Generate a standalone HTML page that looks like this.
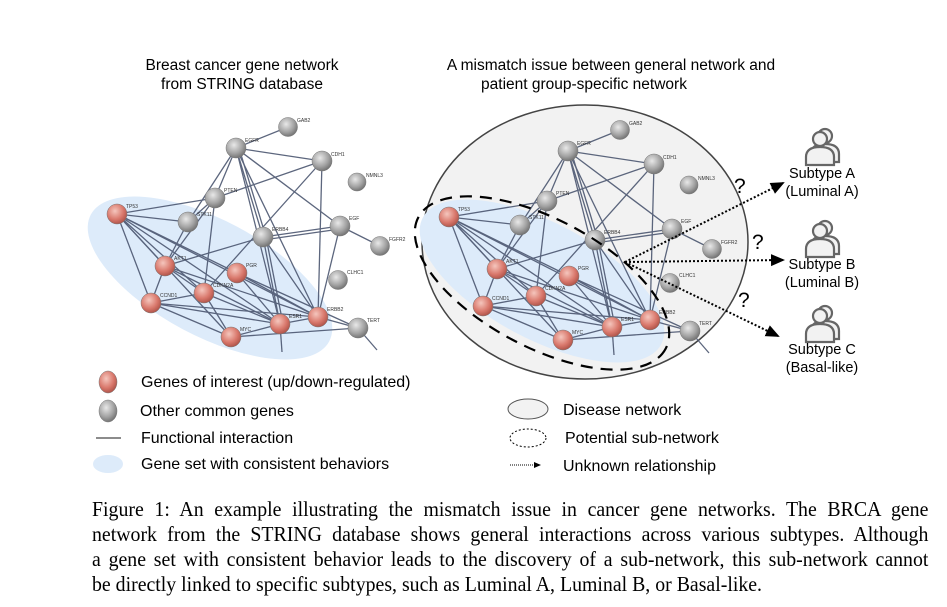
<!DOCTYPE html>
<html><head><meta charset="utf-8"><style>
html,body{margin:0;padding:0;background:#fff;width:947px;height:607px;overflow:hidden}
.cap{position:absolute;left:92px;width:886px;font-family:"Liberation Serif",serif;font-size:21px;line-height:25px;color:#000;white-space:nowrap;transform:scaleX(0.944);transform-origin:0 0}
.j{text-align:justify;text-align-last:justify;white-space:normal}
</style></head><body>
<svg width="947" height="607" viewBox="0 0 947 607" xmlns="http://www.w3.org/2000/svg" style="position:absolute;left:0;top:0">
<defs>
<radialGradient id="rg" cx="0.4" cy="0.35" r="0.7"><stop offset="0" stop-color="#f5c6bd"/><stop offset="0.6" stop-color="#d9786c"/><stop offset="1" stop-color="#a94f45"/></radialGradient>
<radialGradient id="gg" cx="0.4" cy="0.35" r="0.7"><stop offset="0" stop-color="#e8e8e8"/><stop offset="0.6" stop-color="#a3a3a3"/><stop offset="1" stop-color="#6c6c6c"/></radialGradient>
<marker id="ah" markerWidth="8" markerHeight="8" refX="6" refY="3" orient="auto"><path d="M0,0 L7,3 L0,6 Z" fill="#000"/></marker>
<g id="net">
<g stroke="#4b5670" stroke-width="1.3" fill="none" opacity="0.9">
<line x1="288" y1="127" x2="236" y2="148"/><line x1="236" y1="148" x2="322" y2="161"/><line x1="236" y1="148" x2="215" y2="198"/><line x1="236" y1="148" x2="188" y2="222"/>
<line x1="236" y1="148" x2="263" y2="237"/><line x1="239" y1="148" x2="266" y2="237"/><line x1="236" y1="148" x2="280" y2="324"/><line x1="236" y1="148" x2="340" y2="226"/><line x1="236" y1="148" x2="318" y2="317"/>
<line x1="322" y1="161" x2="215" y2="198"/><line x1="322" y1="161" x2="318" y2="317"/><line x1="322" y1="161" x2="204" y2="293"/>
<line x1="215" y1="198" x2="117" y2="214"/><line x1="215" y1="198" x2="188" y2="222"/><line x1="215" y1="198" x2="165" y2="266"/><line x1="215" y1="198" x2="204" y2="293"/>
<line x1="188" y1="222" x2="117" y2="214"/><line x1="188" y1="222" x2="165" y2="266"/>
<line x1="117" y1="214" x2="165" y2="266"/><line x1="117" y1="214" x2="151" y2="303"/><line x1="117" y1="214" x2="204" y2="293"/><line x1="117" y1="214" x2="280" y2="324"/><line x1="117" y1="214" x2="318" y2="317"/><line x1="117" y1="214" x2="237" y2="273"/><line x1="117" y1="214" x2="231" y2="337"/>
<line x1="263" y1="237" x2="340" y2="226"/><line x1="263" y1="240" x2="340" y2="229"/><line x1="263" y1="237" x2="280" y2="324"/><line x1="266" y1="237" x2="283" y2="324"/><line x1="263" y1="237" x2="318" y2="317"/><line x1="263" y1="237" x2="165" y2="266"/>
<line x1="340" y1="226" x2="380" y2="246"/><line x1="340" y1="226" x2="318" y2="317"/>
<line x1="165" y1="266" x2="151" y2="303"/><line x1="165" y1="266" x2="280" y2="324"/><line x1="165" y1="266" x2="318" y2="317"/><line x1="165" y1="266" x2="204" y2="293"/>
<line x1="237" y1="273" x2="280" y2="324"/><line x1="237" y1="273" x2="318" y2="317"/><line x1="237" y1="273" x2="358" y2="328"/>
<line x1="204" y1="293" x2="151" y2="303"/><line x1="204" y1="293" x2="231" y2="337"/><line x1="204" y1="293" x2="280" y2="324"/>
<line x1="151" y1="303" x2="280" y2="324"/><line x1="151" y1="303" x2="231" y2="337"/><line x1="151" y1="303" x2="318" y2="317"/>
<line x1="280" y1="324" x2="318" y2="317"/><line x1="280" y1="324" x2="231" y2="337"/><line x1="231" y1="337" x2="358" y2="328"/><line x1="318" y1="317" x2="358" y2="328"/>
<line x1="280" y1="324" x2="282" y2="352"/><line x1="358" y1="328" x2="377" y2="350"/>
</g>
<g stroke="#777" stroke-width="0.5">
<circle cx="288" cy="127" r="9.5" fill="url(#gg)"/><circle cx="236" cy="148" r="10" fill="url(#gg)"/><circle cx="322" cy="161" r="10" fill="url(#gg)"/><circle cx="357" cy="182" r="9" fill="url(#gg)"/>
<circle cx="215" cy="198" r="10" fill="url(#gg)"/><circle cx="188" cy="222" r="10" fill="url(#gg)"/><circle cx="263" cy="237" r="10" fill="url(#gg)"/><circle cx="340" cy="226" r="10" fill="url(#gg)"/>
<circle cx="380" cy="246" r="9.5" fill="url(#gg)"/><circle cx="338" cy="280" r="9.5" fill="url(#gg)"/><circle cx="358" cy="328" r="10" fill="url(#gg)"/>
<circle cx="117" cy="214" r="10" fill="url(#rg)"/><circle cx="165" cy="266" r="10" fill="url(#rg)"/><circle cx="237" cy="273" r="10" fill="url(#rg)"/><circle cx="204" cy="293" r="10" fill="url(#rg)"/>
<circle cx="151" cy="303" r="10" fill="url(#rg)"/><circle cx="318" cy="317" r="10" fill="url(#rg)"/><circle cx="280" cy="324" r="10" fill="url(#rg)"/><circle cx="231" cy="337" r="10" fill="url(#rg)"/>
</g>
<g font-family="Liberation Sans,sans-serif" font-size="5" fill="#333">
<text x="297" y="122">GAB2</text><text x="245" y="142">EGFR</text><text x="331" y="156">CDH1</text><text x="366" y="177">NMNL3</text>
<text x="224" y="192">PTEN</text><text x="197" y="216">STK11</text><text x="272" y="231">ERBB4</text><text x="349" y="220">EGF</text>
<text x="389" y="241">FGFR2</text><text x="347" y="274">CLHC1</text><text x="367" y="322">TERT</text>
<text x="126" y="208">TP53</text><text x="174" y="260">AKT1</text><text x="246" y="267">PGR</text><text x="213" y="287">CDKN2A</text>
<text x="160" y="297">CCND1</text><text x="327" y="311">ERBB2</text><text x="289" y="318">ESR1</text><text x="240" y="331">MYC</text>
</g>
</g>
</defs>
<ellipse cx="210" cy="278" rx="135" ry="58" transform="rotate(28 210 278)" fill="#ddebfa"/>
<use href="#net"/>
<ellipse cx="585" cy="242" rx="163" ry="137" fill="#f2f2f2" stroke="#444" stroke-width="1.5"/>
<ellipse cx="542" cy="281" rx="135" ry="58" transform="rotate(28 542 281)" fill="#ddebfa"/>
<use href="#net" transform="translate(332,3)"/>
<ellipse cx="542" cy="283" rx="140" ry="64" transform="rotate(28 542 283)" fill="none" stroke="#000" stroke-width="2.2" stroke-dasharray="12,8"/>
<g stroke="#000" stroke-width="2" stroke-dasharray="2,2" fill="none">
<line x1="625" y1="262" x2="783" y2="183" marker-end="url(#ah)"/>
<line x1="625" y1="262" x2="783" y2="260" marker-end="url(#ah)"/>
<line x1="625" y1="262" x2="778" y2="336" marker-end="url(#ah)"/>
</g>
<g font-family="Liberation Sans,sans-serif" font-size="21" fill="#000"><text x="734" y="193">?</text><text x="752" y="249">?</text><text x="738" y="307">?</text></g>
<g fill="#f2f2f2" stroke="#666" stroke-width="2.2">
<g id="p">
<circle cx="825" cy="136" r="7"/><path d="M811,162 v-8 q0,-10 14,-10 q14,0 14,10 v8 z"/>
<circle cx="820" cy="139" r="7"/><path d="M806,165 v-8 q0,-10 14,-10 q14,0 14,10 v8 z"/>
</g>
<use href="#p" transform="translate(0,92)"/><use href="#p" transform="translate(0,177)"/>
</g>
<g font-family="Liberation Sans,sans-serif" font-size="14.5" fill="#000" text-anchor="middle">
<text x="822" y="178">Subtype A</text><text x="822" y="196">(Luminal A)</text>
<text x="822" y="269">Subtype B</text><text x="822" y="287">(Luminal B)</text>
<text x="822" y="354">Subtype C</text><text x="822" y="372">(Basal-like)</text>
</g>
<g font-family="Liberation Sans,sans-serif" font-size="15.5" fill="#000" text-anchor="middle">
<text x="242" y="70">Breast cancer gene network</text><text x="242" y="89">from STRING database</text>
<text x="611" y="70">A mismatch issue between general network and</text><text x="584" y="89">patient group-specific network</text>
</g>
<ellipse cx="108" cy="382" rx="9" ry="11" fill="url(#rg)" stroke="#777" stroke-width="0.5"/>
<ellipse cx="108" cy="411" rx="9" ry="11" fill="url(#gg)" stroke="#777" stroke-width="0.5"/>
<line x1="96" y1="438" x2="121" y2="438" stroke="#666" stroke-width="1.5"/>
<ellipse cx="108" cy="464" rx="15" ry="9" fill="#ddebfa"/>
<ellipse cx="528" cy="409" rx="20" ry="10" fill="#f2f2f2" stroke="#555" stroke-width="1"/>
<ellipse cx="528" cy="438" rx="18" ry="9" fill="none" stroke="#000" stroke-width="1" stroke-dasharray="2,2"/>
<line x1="510" y1="465" x2="540" y2="465" stroke="#000" stroke-width="1" stroke-dasharray="1,1" marker-end="url(#ah)"/>
<g font-family="Liberation Sans,sans-serif" font-size="16" fill="#000">
<text x="141" y="387">Genes of interest (up/down-regulated)</text>
<text x="140" y="416">Other common genes</text>
<text x="141" y="443">Functional interaction</text>
<text x="141" y="469">Gene set with consistent behaviors</text>
<text x="563" y="415">Disease network</text>
<text x="565" y="443">Potential sub-network</text>
<text x="563" y="471">Unknown relationship</text>
</g>
</svg>
<div class="cap j" style="top:497px">Figure 1: An example illustrating the mismatch issue in cancer gene networks. The BRCA gene</div>
<div class="cap j" style="top:522px">network from the STRING database shows general interactions across various subtypes. Although</div>
<div class="cap j" style="top:547px">a gene set with consistent behavior leads to the discovery of a sub-network, this sub-network cannot</div>
<div class="cap" style="top:572px">be directly linked to specific subtypes, such as Luminal A, Luminal B, or Basal-like.</div>
</body></html>
